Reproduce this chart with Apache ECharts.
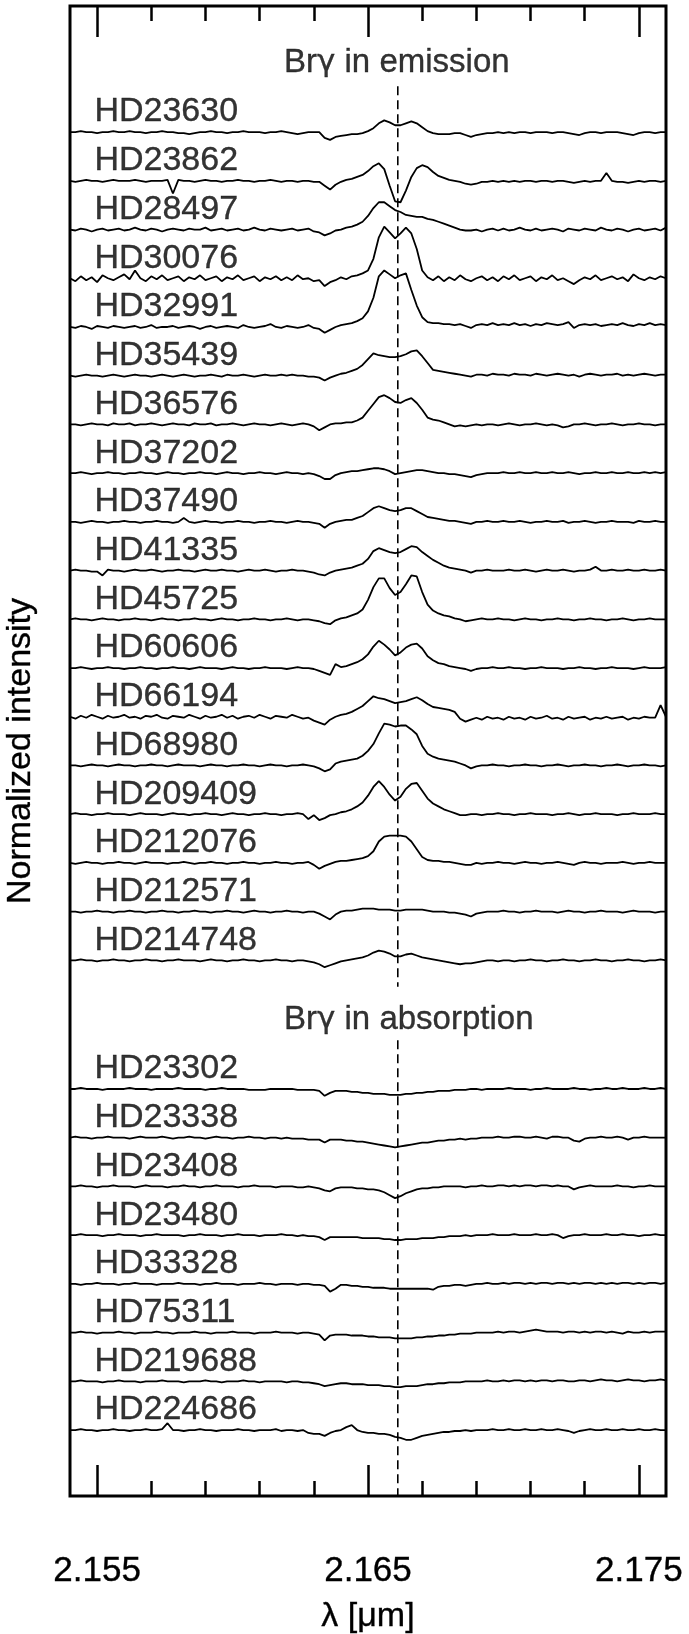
<!DOCTYPE html>
<html><head><meta charset="utf-8">
<script src="https://cdn.jsdelivr.net/npm/echarts@6/dist/echarts.min.js"></script>
<style>html,body{margin:0;padding:0;background:#fff}#c{width:689px;height:1634px}</style>
</head><body><div id="c"></div>
<script>
// shared wavelength grid (µm)
const wavelength = [
2.1540,2.1542,2.1544,2.1546,2.1548,2.1550,2.1552,2.1554,2.1556,2.1558,
2.1560,2.1562,2.1564,2.1566,2.1568,2.1570,2.1572,2.1574,2.1576,2.1578,
2.1580,2.1582,2.1584,2.1586,2.1588,2.1590,2.1592,2.1594,2.1596,2.1598,
2.1600,2.1602,2.1604,2.1606,2.1608,2.1610,2.1612,2.1614,2.1616,2.1618,
2.1620,2.1622,2.1624,2.1626,2.1628,2.1630,2.1632,2.1634,2.1636,2.1638,
2.1640,2.1642,2.1644,2.1646,2.1648,2.1650,2.1652,2.1654,2.1656,2.1658,
2.1660,2.1662,2.1664,2.1666,2.1668,2.1670,2.1672,2.1674,2.1676,2.1678,
2.1680,2.1682,2.1684,2.1686,2.1688,2.1690,2.1692,2.1694,2.1696,2.1698,
2.1700,2.1702,2.1704,2.1706,2.1708,2.1710,2.1712,2.1714,2.1716,2.1718,
2.1720,2.1722,2.1724,2.1726,2.1728,2.1730,2.1732,2.1734,2.1736,2.1738,
2.1740,2.1742,2.1744,2.1746,2.1748,2.1750,2.1752,2.1754,2.1756,2.1758,
2.1760];

const emissionStars = ['HD23630','HD23862','HD28497','HD30076','HD32991','HD35439','HD36576','HD37202','HD37490','HD41335','HD45725','HD60606','HD66194','HD68980','HD209409','HD212076','HD212571','HD214748'];
const absorptionStars = ['HD23302','HD23338','HD23408','HD23480','HD33328','HD75311','HD219688','HD224686'];
// vertical offsets of each spectrum (normalized intensity units)
const emissionOffsets = [13.32,12.82,12.32,11.82,11.32,10.82,10.32,9.82,9.32,8.82,8.32,7.82,7.32,6.82,6.32,5.82,5.32,4.82];
const absorptionOffsets = [3.5,3.0,2.5,2.0,1.5,1.0,0.5,0];

// spectra: deviation from continuum, in percent of continuum, on the wavelength grid
const HD23630 = [0,0,1,0,0,-1,0,0,1,0, 0,1,0,0,-1,0,0,1,0,0, -1,-1,-2,-1,0,0,1,0,0,-1, 0,0,1,0,0,0,-1,0,0,1, 0,-1,-2,-1,0,0,0,-6,-8,-5, -4,-3,-2,-2,-1,1,4,9,12,10, 7,7,9,11,9,5,1,-1,-2,-2, -2,-1,-1,-3,-5,-3,-2,-1,-1,0, -1,0,-1,0,0,-1,0,0,0,-1, 0,0,-1,-2,-3,-1,0,0,-1,0, 0,0,-1,-2,-3,-1,0,0,-1,0, 0];
const HD23862 = [0,-1,0,1,0,0,-1,0,1,0, 0,0,1,0,-1,0,0,0,1,-13, 1,0,0,-1,0,1,0,0,-1,0, 0,1,0,0,-1,0,0,1,0,-1, 0,0,-1,0,0,-1,-1,-5,-9,-4, -1,1,2,4,6,10,15,18,12,-5, -21,-22,-10,4,13,16,14,9,5,3, 1,0,-1,-3,-4,-3,-1,-1,0,-1, 0,-1,0,-1,0,0,-1,0,0,-1, 0,0,-1,-2,-1,0,-1,0,0,8, 0,-1,-1,-2,-1,0,-1,0,0,-1, 0];
const HD28497 = [0,-1,1,0,-2,0,1,-1,0,1, -1,0,2,0,-1,1,0,-2,0,1, 0,-1,1,0,0,2,-1,0,1,-1, 0,1,-1,0,2,0,-1,1,0,-1, 0,1,-1,0,1,-2,-3,-6,-4,-1, 0,2,3,5,8,14,22,28,28,24, 20,18,15,14,13,13,11,10,8,6, 4,2,0,-1,-1,0,-2,0,1,-1, 1,-1,0,2,0,-1,1,-1,0,1, 0,-2,1,0,-1,1,0,-1,2,0, -1,1,0,-2,0,1,-1,0,1,-1, 2];
const HD30076 = [0,-3,2,-2,1,-4,3,0,-2,1, 4,-1,8,0,-3,2,-1,3,-2,0, 2,-3,1,-1,3,-2,0,2,-3,1, -1,3,-2,0,2,-3,1,-1,2,-2, 1,-2,3,-1,0,-3,-2,-8,-4,-2, 1,-1,2,3,5,8,20,42,53,47, 41,46,52,46,30,8,1,-2,2,-3, 1,-2,3,-1,-3,0,2,-2,1,-3, 2,-1,3,-2,0,2,-3,1,-1,3, -2,0,-3,-6,-2,1,-1,3,-2,0, 2,-1,1,-3,4,0,-2,1,-1,2, 0];
const HD32991 = [0,-1,1,0,-2,1,0,-1,1,0, -1,0,1,-1,0,2,-1,0,0,1, -1,0,1,0,-2,0,1,-1,0,1, 0,-1,2,0,-1,0,1,3,0,-1, 1,0,-1,0,2,-1,-2,-6,-3,0, 2,3,4,6,9,16,30,52,58,54, 50,53,55,38,22,10,5,4,4,3, 3,2,3,1,-1,2,3,2,4,2, 3,2,4,2,3,1,3,2,4,3, 2,3,5,-1,2,3,2,3,1,2, 3,2,4,2,1,3,2,4,2,3, 2];
const HD35439 = [0,-1,0,1,0,0,-1,0,1,0, -1,0,1,0,0,-1,0,1,0,-1, 0,1,0,-1,0,0,1,0,-1,1, 0,0,1,0,-1,0,1,0,0,1, 0,1,0,0,-1,-1,-2,-5,-2,0, 2,3,5,7,11,17,23,21,20,19, 19,20,22,25,26,20,13,6,5,4, 3,2,1,0,-1,1,1,0,2,1, 1,0,2,1,1,0,2,1,0,1, 2,1,0,1,-1,1,2,1,0,1, 1,2,0,1,0,1,2,1,0,1, 1];
const HD36576 = [0,0,-1,0,1,0,0,-1,1,0, 0,1,-1,0,0,1,0,-1,0,1, 0,0,-1,1,0,0,1,-1,0,0, 1,0,-1,0,1,0,0,-1,0,1, 0,-1,0,1,0,-2,-6,-3,0,1, 1,2,2,4,7,14,21,28,30,27, 23,22,25,27,22,15,7,5,4,2, 0,-2,-1,-2,-1,0,-1,0,0,-1, 0,1,0,-1,0,0,1,0,-1,0, -1,-3,-2,0,0,1,0,-1,0,0, 1,0,-1,0,0,1,0,0,-1,0, 0];
const HD37202 = [0,0,1,0,-1,0,0,1,0,0, -1,0,0,1,0,0,-1,0,1,0, 0,-1,0,0,1,0,0,-1,0,1, 0,0,-1,0,0,1,0,0,-1,0, 1,0,0,-1,0,-1,-3,-6,-6,-2, 0,1,2,2,3,4,5,5,4,2, -1,0,1,2,3,3,2,1,0,0, -1,-1,-2,-3,-4,-2,-1,0,0,0, 1,0,0,1,0,0,1,0,0,1, 0,0,1,0,-1,0,0,1,0,0, 1,0,0,1,0,0,1,0,1,0, 1];
const HD37490 = [0,0,-1,0,1,0,0,-1,0,0, 1,0,0,-1,0,0,1,0,0,-1, 0,4,0,-1,0,1,0,0,-1,0, 0,1,0,0,-1,0,0,1,0,0, -1,0,1,0,0,-1,-2,-6,-2,0, 1,2,2,4,6,10,14,16,14,12, 11,12,14,14,11,8,5,4,3,2, 1,1,0,-1,-2,0,0,1,0,0, 1,0,0,1,0,-1,0,0,1,0, 0,1,-1,0,0,1,0,-1,0,0, 1,0,0,0,-1,1,0,0,1,0, 0];
const HD41335 = [0,1,0,0,-1,-1,-5,1,0,0, -1,0,1,0,0,1,0,-1,0,0, 1,0,0,-1,0,1,0,0,1,0, 0,-1,0,1,0,0,1,0,-1,0, 0,1,0,0,-1,-2,-4,-5,-2,0, 1,2,3,5,7,12,20,23,21,19, 18,19,22,25,24,19,15,11,8,5, 3,2,1,0,-2,0,0,1,0,0, 0,1,0,0,1,0,-1,0,1,0, 0,1,0,-1,0,0,1,4,0,0, 1,0,0,1,0,0,1,0,0,1, 0];
const HD45725 = [0,1,0,0,-1,0,1,0,0,-1, 0,0,1,0,0,-1,0,1,0,0, -1,0,0,1,0,0,-1,0,1,0, 0,-1,0,0,1,0,0,-1,0,0, 1,0,-1,0,0,-1,-2,-4,-5,-1, 1,2,4,6,10,20,33,42,42,32, 25,28,36,45,44,28,15,9,6,4, 3,1,0,-2,-1,0,1,0,0,1, 0,0,-1,0,1,0,0,-1,0,0, 1,0,0,-1,0,0,1,0,0,-1, 0,0,1,0,-1,0,0,1,0,0, 0];
const HD60606 = [0,0,1,0,-1,0,0,1,0,0, -1,0,0,1,0,0,-1,0,0,1, 0,0,-1,0,1,0,0,0,-1,0, 1,0,0,-1,0,0,1,0,0,0, -1,0,1,0,0,-1,-3,-5,-7,4, 1,2,4,6,9,14,22,28,24,19, 13,16,21,24,25,20,12,8,5,4, 2,1,0,-1,-3,-1,0,0,1,0, 0,1,0,0,-1,0,0,1,0,0, 0,-1,0,0,1,0,0,-1,0,0, 1,0,0,0,-1,0,1,0,0,0, 1];
const HD66194 = [0,-2,1,-1,2,0,-2,1,-1,0, 2,-1,0,-2,1,0,2,-1,-2,1, 0,-1,2,0,-2,1,-1,0,2,-1, 1,-2,0,1,-1,2,0,-2,1,0, -1,2,0,-2,-1,-4,-6,-8,-3,0, 2,3,5,8,11,16,21,19,18,16, 14,15,16,18,20,17,13,10,9,8, 7,5,-2,-5,-3,-1,-3,0,-2,-1, -3,0,-2,-1,-3,0,-2,-1,1,-2, -1,-3,0,-2,-1,0,-3,-1,-2,0, -2,-1,0,-3,-1,-2,0,-1,-1,12, 0];
const HD68980 = [0,0,-1,0,1,0,0,-1,0,1, 0,0,-1,0,0,1,0,0,-1,0, 1,0,0,0,-1,0,1,0,0,-1, 0,0,1,0,0,-1,0,1,0,0, -1,0,0,1,0,-1,-3,-6,-4,2, 4,5,6,7,10,15,22,33,43,42, 40,41,41,37,32,20,12,9,7,6, 5,4,2,0,-3,-1,0,0,1,0, 0,-1,0,0,1,0,0,-1,0,0, 1,0,-1,0,0,1,0,0,-1,0, 0,1,0,-1,0,0,1,0,0,-1, 0];
const HD209409 = [0,1,0,0,-1,0,0,1,0,0, 0,-1,0,1,0,0,0,-1,0,1, 0,0,-1,0,0,1,0,0,-1,0, 1,0,0,-1,0,0,1,0,0,-1, 0,0,1,0,-5,-1,-6,-4,-1,0, 2,3,5,8,12,19,28,34,28,20, 14,18,26,31,32,24,16,11,8,5, 3,1,-1,-1,0,0,-1,0,0,1, 0,0,-1,0,0,1,0,0,0,-1, 0,0,1,0,-1,0,0,1,0,0, 0,-1,0,0,1,0,0,0,1,0, 0];
const HD212076 = [0,-1,0,1,0,0,-1,0,0,1, 0,0,-1,0,1,0,0,0,-1,0, 0,1,0,-1,0,0,1,0,0,-1, 0,0,1,0,0,-1,0,0,1,0, 0,-1,0,0,1,-2,-6,-3,-1,1, 2,2,3,4,5,7,12,22,27,28, 28,28,27,22,14,6,3,2,2,1, 1,0,-1,-2,-2,0,-1,0,0,1, 0,0,-1,0,1,0,0,-1,0,0, 1,0,-1,-2,0,1,0,0,-1,0, 0,0,1,0,-1,0,0,1,0,0, 0];
const HD212571 = [0,0,-1,0,0,1,0,0,-1,0, 0,1,0,0,-1,0,0,1,0,0, -1,0,0,1,0,0,-1,0,0,1, 0,0,-1,0,1,0,0,-1,0,0, 1,0,0,-1,0,0,-2,-5,-8,-3, 0,1,1,2,3,3,3,2,2,2, 1,1,2,2,2,2,1,0,0,0, -1,-1,-2,-3,-5,-2,-1,0,0,0, 1,0,0,-1,0,0,1,0,0,0, -1,0,1,0,0,-1,0,0,1,0, 0,0,-1,0,1,0,0,0,-1,0, 0];
const HD214748 = [0,0,1,0,0,-1,0,0,1,0, 0,-1,0,0,1,0,0,-1,0,0, 1,0,0,0,-1,0,1,0,0,-1, 0,0,1,0,0,-1,0,0,1,0, 0,-1,0,0,-1,-2,-4,-7,-5,-3, -1,0,1,2,3,5,8,10,9,7, 4,4,6,7,5,3,2,1,0,-1, -2,-3,-4,-3,-3,-2,-1,0,0,-1, 0,0,-1,0,0,1,0,0,-1,0, 0,1,0,0,-1,0,0,1,0,0, -1,0,0,1,0,0,-1,0,0,1, 0];
const HD23302 = [0,0,1,0,0,0,-1,0,0,0, 0,1,0,0,0,-1,0,0,0,0, 1,0,0,0,0,-1,0,0,1,0, 0,0,0,-1,-1,-1,-1,0,0,0, 0,0,-1,-1,-1,-1,-2,-7,-4,-2, -2,-2,-3,-3,-4,-4,-5,-5,-5,-6, -6,-6,-5,-5,-4,-4,-3,-3,-2,-2, -2,-1,-1,-1,0,0,-1,0,0,0, 0,1,0,0,0,-1,0,0,1,0, 0,0,0,1,0,0,-1,0,0,1, 0,0,1,0,0,0,1,0,0,1, 0];
const HD23338 = [0,1,0,0,-1,0,0,1,0,0, 0,-1,0,1,0,0,0,1,0,-1, 0,0,1,0,0,-1,0,1,0,0, -1,0,0,1,0,0,-1,0,0,-1, 0,-1,-1,-1,-2,-2,-2,-5,-2,-2, -2,-3,-3,-4,-4,-5,-6,-7,-8,-9, -10,-9,-8,-7,-6,-5,-5,-4,-3,-3, -2,-2,-1,-2,-1,-1,0,0,0,1, 0,0,1,1,0,0,1,0,-1,1, 1,0,0,-3,-4,-1,0,0,1,0, 0,1,0,-2,0,0,1,0,0,0, 0];
const HD23408 = [0,0,1,0,0,-1,0,0,1,0, 0,0,-1,0,1,0,0,0,-1,0, 0,1,0,0,-1,0,0,1,0,0, 0,-1,0,0,1,0,0,0,-1,0, 0,0,-1,-1,0,-1,-2,-4,-5,-2, -1,-1,-1,-2,-2,-3,-3,-4,-6,-9, -12,-10,-7,-5,-3,-2,-2,-1,-1,0, 0,0,0,-1,0,0,1,0,0,1, 1,0,1,0,1,1,0,1,1,0, 1,0,0,-3,-1,0,1,0,0,0, 0,1,0,0,-1,0,0,1,0,0, 0];
const HD23480 = [0,0,1,0,0,0,-1,0,0,1, 0,0,0,-1,0,0,1,0,0,0, 0,-1,0,0,1,0,0,0,-1,0, 0,1,0,0,0,-1,0,0,0,1, 0,0,-1,0,-1,-1,-2,-5,-2,-2, -2,-2,-2,-2,-3,-3,-3,-3,-4,-4, -5,-5,-4,-4,-4,-3,-3,-3,-2,-2, -1,-1,-1,0,-1,0,0,0,1,0, 0,0,1,0,0,0,1,0,0,1, 0,-3,-1,0,0,1,0,0,0,1, 0,0,1,0,0,-1,0,0,1,0, 0];
const HD33328 = [0,0,-1,0,0,1,0,0,0,-1, 0,0,1,0,0,0,-1,0,0,0, 1,0,0,0,-1,0,0,1,0,0, 0,-1,0,0,0,1,0,0,-1,0, 0,0,-1,0,0,-1,-1,-2,-8,-5, -1,-1,-2,-2,-3,-3,-4,-4,-4,-5, -5,-5,-5,-5,-5,-5,-5,-6,-3,-2, -2,-1,-1,-2,-1,0,0,1,0,0, 1,0,1,1,0,1,0,1,1,0, 1,1,0,1,0,1,1,0,1,0, 1,0,1,1,0,1,0,1,1,0, 1];
const HD75311 = [0,0,1,0,0,-1,0,0,0,1, 0,0,-1,0,0,0,1,0,0,-1, 0,0,0,1,0,0,-1,0,0,0, 1,0,0,0,-1,0,0,0,1,0, 0,0,-1,0,0,-1,-2,-8,-3,-2, -2,-2,-3,-3,-3,-4,-4,-5,-5,-5, -6,-6,-6,-6,-5,-5,-4,-4,-3,-3, -2,-2,-1,-1,-1,0,0,0,0,1, 0,1,1,0,1,2,3,2,1,1, 1,0,1,1,0,1,0,1,1,0, 1,0,-1,1,0,0,1,0,1,1, 1];
const HD219688 = [0,0,1,0,0,0,-1,0,0,1, 0,0,0,-1,0,0,0,1,0,0, 0,-1,0,0,0,1,0,0,-1,0, 0,0,1,0,0,-1,0,0,0,0, -1,0,0,-1,-1,-2,-3,-5,-4,-3, -2,-2,-3,-3,-3,-4,-4,-4,-5,-5, -6,-6,-5,-5,-5,-4,-3,-3,-2,-2, -1,-1,-1,0,0,0,0,1,0,0, 1,0,1,1,0,1,0,1,1,0, 1,1,0,0,1,1,0,1,2,1, 1,0,1,2,1,1,0,1,1,2, 1];
const HD224686 = [0,0,1,0,0,-1,0,0,1,0, 0,-1,0,0,1,0,0,1,7,0, 0,-1,0,0,1,0,0,-1,0,0, 0,1,0,0,-1,0,0,0,1,-1, 0,0,-1,0,-3,-4,-4,-6,-3,-1, 0,3,5,0,-2,-3,-3,-4,-4,-5, -7,-8,-10,-10,-8,-6,-5,-4,-3,-2, -2,-1,-1,0,-1,0,0,0,1,0, 0,1,0,0,1,0,0,1,0,0, 1,0,-1,-3,-1,0,1,0,0,1, 0,0,1,0,0,1,0,0,1,0, 0];

const spectra = {HD23630,HD23862,HD28497,HD30076,HD32991,HD35439,HD36576,HD37202,HD37490,HD41335,HD45725,HD60606,HD66194,HD68980,HD209409,HD212076,HD212571,HD214748,HD23302,HD23338,HD23408,HD23480,HD33328,HD75311,HD219688,HD224686};

const majorTicks = [2.155, 2.165, 2.175];
const minorTicks = [2.157, 2.159, 2.161, 2.163, 2.167, 2.169, 2.171, 2.173];
const brGamma = 2.1661;
const sectionTitles = ['Br{g|γ} in emission', 'Br{g|γ} in absorption'];
const sectionTitleLevels = [15.03, 5.21];
const dashedSegments = [[14.79, 5.55], [5.0, 0.323]];

const FONT = "'Liberation Sans', Arial, Helvetica, sans-serif";
const X_MIN = 2.154, X_MAX = 2.176, Y_MIN = 0.323, Y_MAX = 15.614;
const LABEL_X = 2.1549, LABEL_DY = 0.205, TITLE_X = 2.1619;
const TXT = {color: '#000', fontFamily: FONT, textBorderColor: '#000', textBorderWidth: 0.35};

const stars = emissionStars.concat(absorptionStars);
const offsets = emissionOffsets.concat(absorptionOffsets);

const series = [];
stars.forEach((name, k) => {
  series.push({
    type: 'line', name: name, xAxisIndex: 0, yAxisIndex: 0,
    showSymbol: false, symbol: 'none', silent: true,
    lineStyle: {color: '#000', width: 1.8},
    data: wavelength.map((w, i) => [w, 1 + offsets[k] + spectra[name][i] / 100])
  });
});
dashedSegments.forEach(seg => {
  series.push({
    type: 'line', xAxisIndex: 0, yAxisIndex: 0, symbol: 'none', silent: true,
    lineStyle: {color: '#000', width: 1.6, type: [9, 5]},
    data: [[brGamma, seg[0]], [brGamma, seg[1]]]
  });
});
series.push({
  type: 'scatter', xAxisIndex: 0, yAxisIndex: 0, symbolSize: 0, silent: true,
  data: stars.map((name, k) => [LABEL_X, 1 + offsets[k] + LABEL_DY, name]),
  label: Object.assign({show: true, position: 'right', distance: 0, formatter: p => p.data[2], fontSize: 34}, TXT)
});
series.push({
  type: 'scatter', xAxisIndex: 0, yAxisIndex: 0, symbolSize: 0, silent: true,
  data: sectionTitles.map((t, k) => [TITLE_X, sectionTitleLevels[k], t]),
  label: Object.assign({show: true, position: 'right', distance: 0, formatter: p => p.data[2], fontSize: 33,
    rich: {g: {fontFamily: "'DejaVu Sans', sans-serif", fontSize: 31, color: '#000', textBorderColor: '#000', textBorderWidth: 0.35}}}, TXT)
});

function xAx(pos, ticks, len, labels) {
  return {
    type: 'value', position: pos, min: X_MIN, max: X_MAX,
    axisLine: {show: false}, splitLine: {show: false},
    axisTick: {show: true, inside: true, length: len, customValues: ticks,
               lineStyle: {color: '#000', width: 2.5}},
    axisLabel: labels ? Object.assign({show: true, customValues: majorTicks, margin: 58,
               formatter: v => v.toFixed(3), fontSize: 35}, TXT)
               : {show: false},
    name: labels ? 'λ [μm]' : '', nameLocation: 'middle', nameGap: 104,
    nameTextStyle: Object.assign({fontSize: 34}, TXT)
  };
}

const chart = echarts.init(document.getElementById('c'), null, {renderer: 'canvas'});
chart.setOption({
  animation: false,
  backgroundColor: '#fff',
  grid: {left: 70, right: 23, top: 6, bottom: 138, show: true, borderColor: '#000', borderWidth: 3,
         backgroundColor: 'transparent', containLabel: false, outerBoundsMode: 'none'},
  xAxis: [
    xAx('bottom', majorTicks, 31, true),
    xAx('bottom', minorTicks, 15, false),
    xAx('top', majorTicks, 31, false),
    xAx('top', minorTicks, 15, false)
  ],
  yAxis: {
    type: 'value', min: Y_MIN, max: Y_MAX,
    axisLine: {show: false}, axisTick: {show: false}, axisLabel: {show: false}, splitLine: {show: false},
    name: 'Normalized intensity', nameLocation: 'middle', nameGap: 32, nameRotate: 90,
    nameTextStyle: Object.assign({fontSize: 34}, TXT)
  },
  series: series
});
</script>
</body></html>
